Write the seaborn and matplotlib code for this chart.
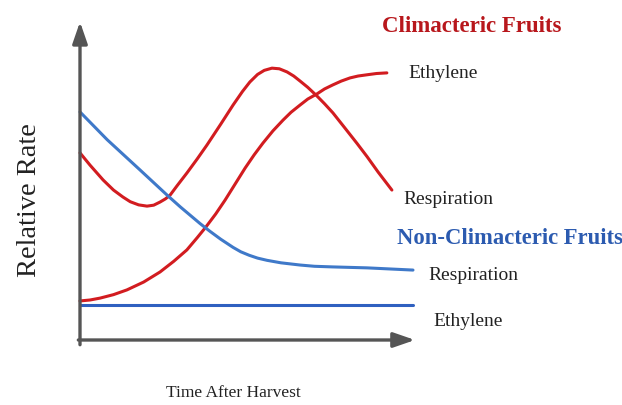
import matplotlib
matplotlib.use("Agg")
import matplotlib.pyplot as plt
import seaborn as sns
import pandas as pd

# ---- data (relative units: time 0-100, rate 0-100) ----
clim_resp_t = [0, 3, 6.9, 10, 12.8, 15, 17.5, 20, 22, 23.9, 25.5, 26.9, 29, 31.9, 35, 37.9,
               42, 45.7, 48.5, 50.7, 53, 55, 57.3, 59.5, 61.8, 63.8, 65.7, 68, 70.7, 73,
               75.5, 79, 82.7, 85.7, 89, 93.1]
clim_resp_v = [59.4, 55.5, 50.8, 47.6, 45.4, 43.9, 42.9, 42.5, 42.8, 43.8, 44.8, 46.0, 49.0,
               53.0, 57.5, 61.9, 68.5, 74.6, 78.9, 81.9, 84.3, 85.6, 86.3, 86.1, 85.1, 83.8,
               82.2, 80.2, 77.5, 75.0, 72.1, 67.4, 62.4, 58.2, 53.3, 47.6]

clim_eth_t = [0, 3, 6, 10, 14, 19, 23.9, 28, 31.9, 35, 37.6, 40.5, 43.3, 46.3, 49.3, 52,
              54.6, 57.6, 60.6, 63, 65.7, 68, 70.7, 73, 75.5, 78, 80.6, 83, 85.7, 88.5, 91.6]
clim_eth_v = [12.4, 12.7, 13.3, 14.4, 15.9, 18.4, 21.6, 25.0, 28.6, 32.5, 35.9, 40.0, 44.4,
              49.5, 54.6, 58.8, 62.5, 66.4, 69.8, 72.3, 74.6, 76.5, 78.1, 79.7, 81.0, 82.2,
              83.2, 83.8, 84.2, 84.6, 84.8]

non_resp_t = [0, 8.1, 17.9, 26.0, 30, 35.8, 38.8, 42.0, 45.7, 48, 50.5, 53, 55.8, 60, 65.7,
              70, 75.5, 85.7, 99.4]
non_resp_v = [72.4, 63.6, 54.0, 46.0, 42.2, 37.0, 34.5, 32.0, 29.4, 28.0, 26.9, 26.0, 25.3,
              24.5, 23.8, 23.4, 23.2, 22.9, 22.2]

non_eth_t = [0, 99.4]
non_eth_v = [11.1, 11.1]

RED = "#d21c20"
BLUE_R = "#3f79c9"
BLUE_E = "#2f60c0"

sns.set_style("white")
plt.rcParams["font.family"] = ["Liberation Serif", "DejaVu Serif"]

W, H = 622, 405
fig = plt.figure(figsize=(W / 100, H / 100), dpi=100)
ax = fig.add_axes([80 / W, 65 / H, 335 / W, 315 / H])

series = [
    (clim_resp_t, clim_resp_v, RED),
    (clim_eth_t, clim_eth_v, RED),
    (non_resp_t, non_resp_v, BLUE_R),
    (non_eth_t, non_eth_v, BLUE_E),
]
for t, v, c in series:
    df = pd.DataFrame({"t": t, "v": v})
    sns.lineplot(data=df, x="t", y="v", ax=ax, color=c, lw=2.2, legend=False,
                 solid_joinstyle="round", solid_capstyle="round", clip_on=False)

ax.set_xlim(0, 100)
ax.set_ylim(0, 100)
ax.set_xticks([])
ax.set_yticks([])
ax.set_xlabel("")
ax.set_ylabel("")
for s in ax.spines.values():
    s.set_visible(False)

AX = "#555555"
arrow = dict(arrowstyle="-|>,head_length=1.3,head_width=0.45", lw=2.4, color=AX,
             shrinkA=0, shrinkB=0)
ax.annotate("", xy=(1.0, 0), xytext=(-0.005, 0), xycoords="axes fraction",
            textcoords="axes fraction", arrowprops=arrow, annotation_clip=False)
ax.annotate("", xy=(0, 1.01), xytext=(0, -0.015), xycoords="axes fraction",
            textcoords="axes fraction", arrowprops=arrow, annotation_clip=False)


def px(x, y):
    return x / W, 1 - y / H


TXT = "#222222"
fig.text(*px(472, 27), "Climacteric Fruits", color="#b8171c", fontsize=16.5,
         fontweight="bold", ha="center", va="center")
fig.text(*px(408, 73), "Ethylene", color=TXT, fontsize=14, ha="left", va="center")
fig.text(*px(403, 199), "Respiration", color=TXT, fontsize=14, ha="left", va="center")
fig.text(*px(397, 239), "Non-Climacteric Fruits", color="#2c5bb0", fontsize=16.3,
         fontweight="bold", ha="left", va="center")
fig.text(*px(428, 275), "Respiration", color=TXT, fontsize=14, ha="left", va="center")
fig.text(*px(433, 321), "Ethylene", color=TXT, fontsize=14, ha="left", va="center")
fig.text(*px(233, 393), "Time After Harvest", color=TXT, fontsize=12.5, ha="center",
         va="center")
fig.text(*px(30, 200), "Relative Rate", color=TXT, fontsize=20.5, ha="center",
         va="center", rotation=90)

fig.savefig("out.png", dpi=100)
